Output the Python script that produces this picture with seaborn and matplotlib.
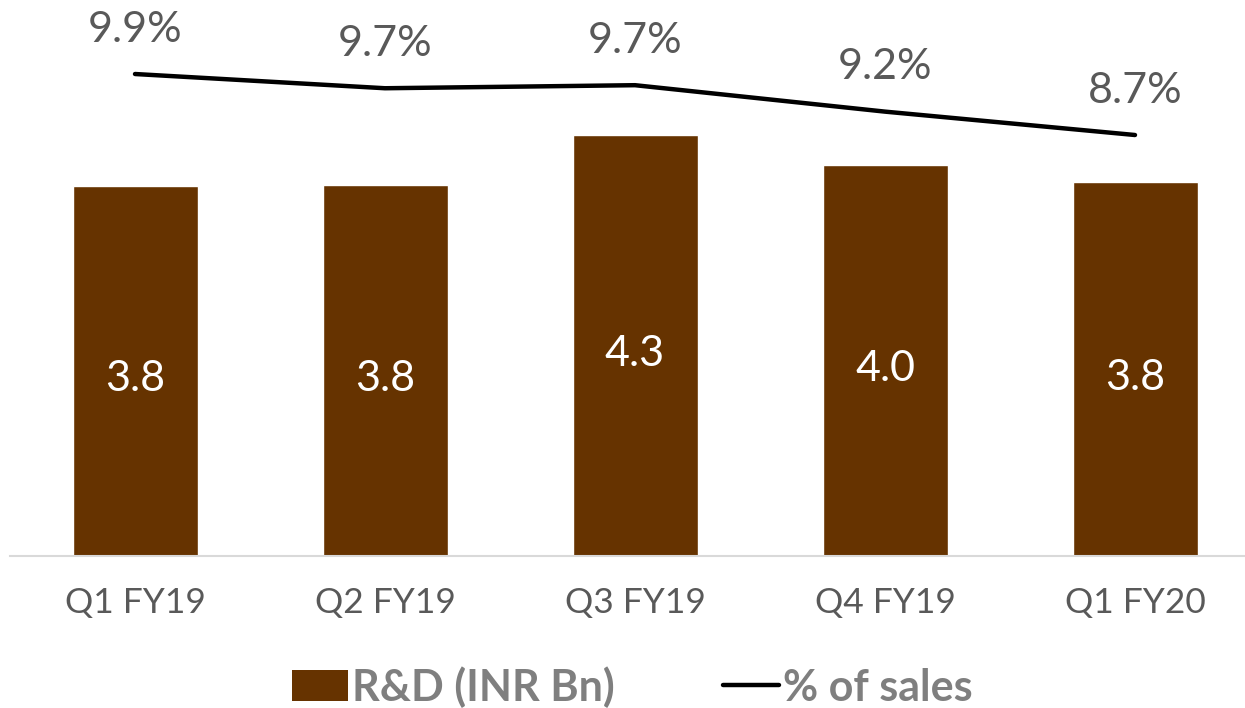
import numpy as np
import pandas as pd
import matplotlib
matplotlib.use("Agg")
import matplotlib.pyplot as plt
import seaborn as sns
from matplotlib.patches import Patch
from matplotlib.lines import Line2D

# Données
quarters = ["Q1 FY19", "Q2 FY19", "Q3 FY19", "Q4 FY19", "Q1 FY20"]
rd_inr_bn = [3.79, 3.80, 4.32, 4.01, 3.83]
pct_of_sales = [9.9, 9.62, 9.68, 9.16, 8.7]
pct_labels = ["9.9%", "9.7%", "9.7%", "9.2%", "8.7%"]

BAR_COLOR = "#663300"
TEXT_GRAY = "#595959"
LEGEND_GRAY = "#7f7f7f"

sns.set_theme(style="white")
plt.rcParams["font.family"] = ["Lato", "DejaVu Sans"]

df = pd.DataFrame({"quarter": quarters, "rd": rd_inr_bn, "pct": pct_of_sales})

fig = plt.figure(figsize=(12.45, 7.08), dpi=100)
ax = fig.add_axes([10 / 1245, 152 / 708, 1 - 10 / 1245, 556 / 708])

sns.barplot(data=df, x="quarter", y="rd", color=BAR_COLOR, width=0.5,
            saturation=1, ax=ax)
ax.set_ylim(0, 5.70)
ax.set_xlim(-0.5, 4.44)

# étiquettes blanches au milieu des barres (un peu en dessous)
for i, v in enumerate(rd_inr_bn):
    ax.annotate(f"{v:.1f}", (i, v / 2), xytext=(0, -6), textcoords="offset points",
                ha="center", va="center", color="white", fontsize=31)

# axe secondaire pour le % des ventes
ax2 = ax.twinx()
sns.lineplot(x=np.arange(len(quarters)), y=pct_of_sales, color="black",
             linewidth=3.2, ax=ax2, solid_capstyle="round")
ax2.set_ylim(0.418, 11.356)
for i, (v, lab) in enumerate(zip(pct_of_sales, pct_labels)):
    ax2.annotate(lab, (i, v), xytext=(0, 32), textcoords="offset points",
                 ha="center", va="center", color=TEXT_GRAY, fontsize=31)

for a in (ax, ax2):
    a.set_yticks([])
    a.set_ylabel("")
    for side in ("top", "left", "right"):
        a.spines[side].set_visible(False)
ax2.spines["bottom"].set_visible(False)
ax.spines["bottom"].set_color("#d9d9d9")
ax.spines["bottom"].set_linewidth(1.5)

ax.set_xlabel("")
ax.tick_params(axis="x", length=0, pad=22, labelsize=25.5, labelcolor=TEXT_GRAY)

handles = [Patch(facecolor=BAR_COLOR, edgecolor="none"),
           Line2D([0], [0], color="black", linewidth=3.2, solid_capstyle="round")]
leg = fig.legend(handles, ["R&D (INR Bn)", "% of sales"], loc="center",
                 bbox_to_anchor=(0.508, 0.03), ncol=2, frameon=False,
                 handlelength=1.3, handleheight=0.75, handletextpad=0.1,
                 columnspacing=2.5,
                 prop={"size": 31, "weight": "bold"})
for t in leg.get_texts():
    t.set_color(LEGEND_GRAY)

fig.savefig("out.png", dpi=100)
